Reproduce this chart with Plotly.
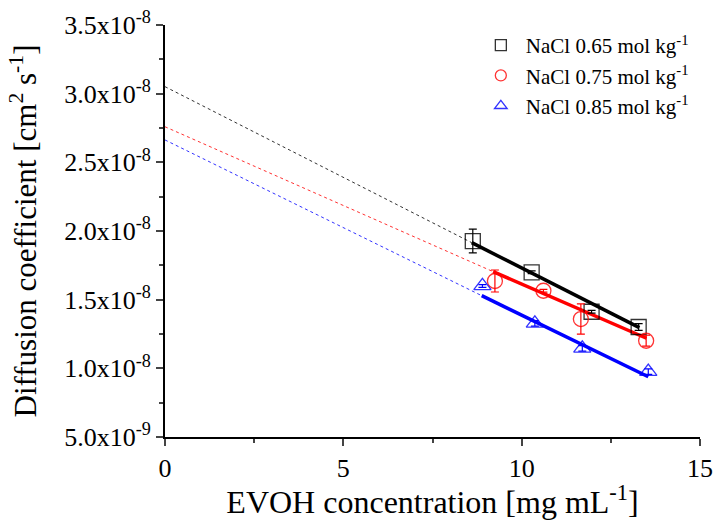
import plotly.graph_objects as go

# ---- data ----
series_names = ["NaCl 0.65 mol kg<sup>-1</sup>", "NaCl 0.75 mol kg<sup>-1</sup>", "NaCl 0.85 mol kg<sup>-1</sup>"]
x_065 = [8.63, 10.28, 11.96, 13.28]
y_065 = [1.927e-8, 1.699e-8, 1.412e-8, 1.301e-8]
e_065 = [0.087e-8, 0.01e-8, 0.01e-8, 0.025e-8]

x_075 = [9.25, 10.61, 11.66, 13.49]
y_075 = [1.636e-8, 1.565e-8, 1.359e-8, 1.201e-8]
e_075 = [0.08e-8, 0.01e-8, 0.11e-8, 0.04e-8]

x_085 = [8.90, 10.37, 11.70, 13.55]
y_085 = [1.600e-8, 1.328e-8, 1.146e-8, 0.976e-8]
e_085 = [0.01e-8, 0.02e-8, 0.02e-8, 0.02e-8]

# fitted lines (read): value at x=0, solid segment start/end
fit_y_at0 = [3.051e-8, 2.759e-8, 2.663e-8]
fit_x_start = [8.60, 9.20, 8.88]
fit_y_start = [1.915e-8, 1.704e-8, 1.529e-8]
fit_x_end = [13.30, 13.50, 13.55]
fit_y_end = [1.296e-8, 1.219e-8, 0.939e-8]

y_tickvals = [5e-9, 1.0e-8, 1.5e-8, 2.0e-8, 2.5e-8, 3.0e-8, 3.5e-8]
y_ticktext = ["5.0x10<sup>-9</sup>", "1.0x10<sup>-8</sup>", "1.5x10<sup>-8</sup>", "2.0x10<sup>-8</sup>",
              "2.5x10<sup>-8</sup>", "3.0x10<sup>-8</sup>", "3.5x10<sup>-8</sup>"]
x_tickvals = [0, 5, 10, 15]

colors = ["black", "red", "blue"]
symbols = ["square-open", "circle-open", "triangle-up-open"]
FONT = "Liberation Serif, Times New Roman, serif"

xs = [x_065, x_075, x_085]
ys = [y_065, y_075, y_085]
es = [e_065, e_075, e_085]

fig = go.Figure()
for i in range(3):
    # dashed extrapolation
    fig.add_trace(go.Scatter(x=[0, fit_x_start[i]], y=[fit_y_at0[i], fit_y_start[i]], mode="lines",
                             line=dict(color=colors[i], width=1, dash="3px,3px"), showlegend=False,
                             hoverinfo="skip", opacity=0.8))
    # solid fit
    fig.add_trace(go.Scatter(x=[fit_x_start[i], fit_x_end[i]], y=[fit_y_start[i], fit_y_end[i]], mode="lines",
                             line=dict(color=colors[i], width=3.5), showlegend=False, hoverinfo="skip"))
for i in range(3):
    fig.add_trace(go.Scatter(x=xs[i], y=ys[i], mode="markers",
                             marker=dict(symbol=symbols[i], size=15, color=colors[i], opacity=0.8,
                                         line=dict(width=1.3, color=colors[i])),
                             error_y=dict(type="data", array=es[i], color=colors[i], thickness=1.2, width=4),
                             showlegend=False))
for i in range(3):
    fig.add_trace(go.Scatter(x=[None], y=[None], mode="markers", name=series_names[i],
                             marker=dict(symbol=symbols[i], size=11, color=colors[i], opacity=0.8,
                                         line=dict(width=1.3, color=colors[i]))))

fig.update_layout(
    width=713, height=520,
    margin=dict(l=165, r=13, t=25, b=83),
    paper_bgcolor="white", plot_bgcolor="white",
    font=dict(family=FONT, color="black"),
    showlegend=True,
    legend=dict(x=0.581, y=1.0, xanchor="left", yanchor="top", font=dict(size=21, family=FONT),
                bgcolor="rgba(0,0,0,0)", tracegroupgap=0, itemwidth=40),
    xaxis=dict(range=[0, 15], tickvals=x_tickvals, ticks="outside", ticklen=7, tickwidth=1.5,
               showline=True, linewidth=2, linecolor="black", showgrid=False, zeroline=False,
               tickfont=dict(size=26, family=FONT), automargin=False,
               minor=dict(dtick=2.5, tick0=0, ticks="outside", ticklen=4, tickwidth=1.5),
               title=dict(text="EVOH concentration [mg mL<sup>-1</sup>]", font=dict(size=32, family=FONT), standoff=8)),
    yaxis=dict(range=[5e-9, 3.5e-8], tickvals=y_tickvals, ticktext=y_ticktext, ticks="outside", ticklen=7,
               tickwidth=1.5, showline=True, linewidth=2, linecolor="black", showgrid=False, zeroline=False,
               tickfont=dict(size=26, family=FONT), automargin=False,
               minor=dict(dtick=0.25e-8, tick0=5e-9, ticks="outside", ticklen=4, tickwidth=1.5),
               title=dict(text="Diffusion coefficient [cm<sup>2</sup> s<sup>-1</sup>]", font=dict(size=31, family=FONT), standoff=18)),
)

fig.write_html("out.html")
